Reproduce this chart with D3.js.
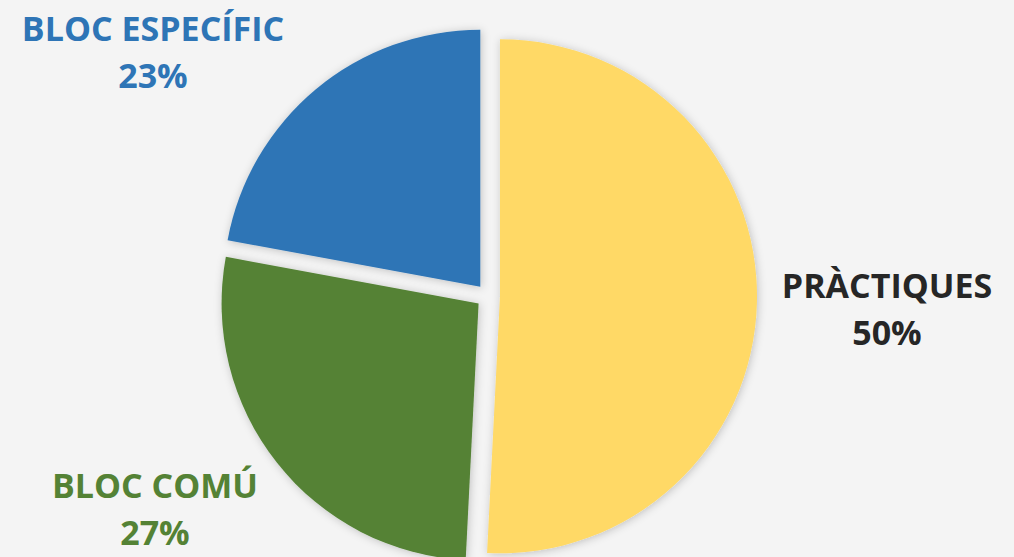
<!DOCTYPE html>
<html>
<head>
<meta charset="utf-8">
<script src="https://cdn.jsdelivr.net/npm/d3@7"></script>
<style>
  html, body { margin: 0; padding: 0; background: #f4f4f4; }
  svg { display: block; }
</style>
</head>
<body>
<svg id="chart" width="1014" height="557"></svg>
<script>
// Data (clockwise from 12 o'clock)
const categories = ["PRÀCTIQUES", "BLOC COMÚ", "BLOC ESPECÍFIC"];
const values = [50.8, 27.1, 22.1];
const percentLabels = ["50%", "27%", "23%"];
const colors = ["#ffd966", "#548235", "#2e75b6"];
const labelColors = ["#262626", "#548235", "#2e75b6"];

// Layout
const W = 1014, H = 557;
const cx = 488, cy = 296, R = 257, explode = 12;
const labelPos = [[887, 298], [155, 498], [153, 41]];
const lineGap = 47;

const svg = d3.select("#chart");
svg.append("rect").attr("width", W).attr("height", H).attr("fill", "#f4f4f4");

const defs = svg.append("defs");
const f = defs.append("filter").attr("id", "shadow")
  .attr("x", "-20%").attr("y", "-20%").attr("width", "140%").attr("height", "140%");
f.append("feDropShadow").attr("dx", 1).attr("dy", 1).attr("stdDeviation", 4)
  .attr("flood-color", "#000").attr("flood-opacity", 0.22);

const pie = d3.pie().sort(null).value(d => d).startAngle(0).endAngle(2 * Math.PI);
const arcs = pie(values);
const arc = d3.arc().innerRadius(0).outerRadius(R);

const g = svg.append("g").attr("transform", `translate(${cx},${cy})`);
g.selectAll("path").data(arcs).join("path")
  .attr("d", arc)
  .attr("fill", (d, i) => colors[i])
  .attr("filter", "url(#shadow)")
  .attr("transform", d => {
    const a = (d.startAngle + d.endAngle) / 2;
    return `translate(${Math.sin(a) * explode},${-Math.cos(a) * explode})`;
  });

const lbl = svg.append("g")
  .attr("font-family", "'Open Sans', 'Noto Sans', sans-serif")
  .attr("font-weight", 700)
  .attr("font-size", 34)
  .attr("text-anchor", "middle");
categories.forEach((c, i) => {
  const t = lbl.append("text").attr("fill", labelColors[i]);
  t.append("tspan").attr("x", labelPos[i][0]).attr("y", labelPos[i][1]).text(c);
  t.append("tspan").attr("x", labelPos[i][0]).attr("y", labelPos[i][1] + lineGap).text(percentLabels[i]);
});
</script>
</body>
</html>
